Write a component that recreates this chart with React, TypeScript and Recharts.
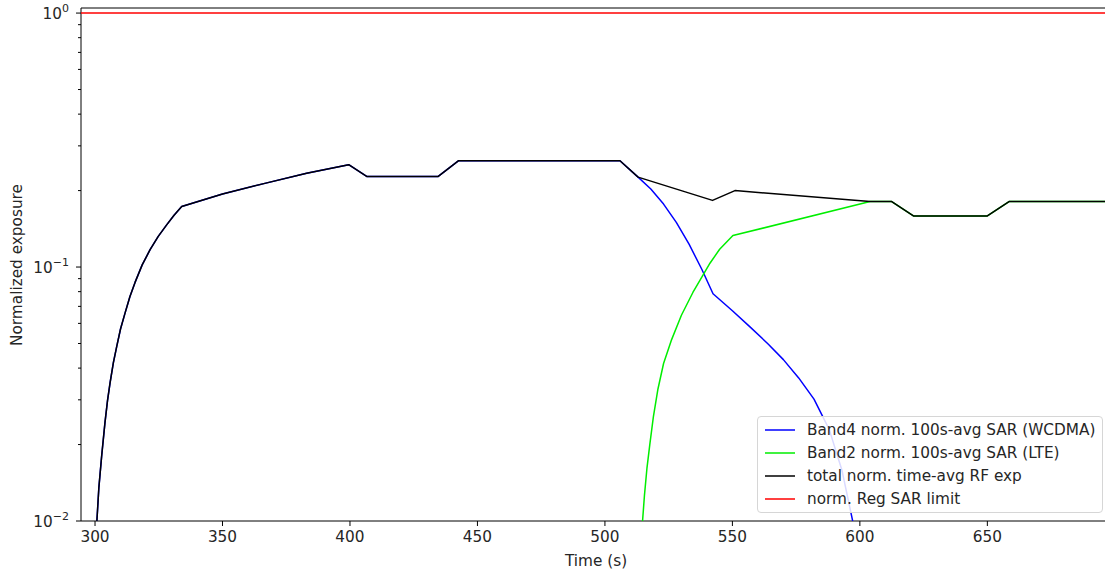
import React from 'react';
import { LineChart, Line, XAxis, YAxis, ReferenceArea, Label } from 'recharts';

// time (s) / normalized exposure readings
const TOTAL_T = [300.6, 301.5, 302.6, 303.9, 304.9, 305.9, 307.2, 308.5, 310, 311.8, 313.7, 315.7, 318.5, 321.6, 324.8, 328.1, 331, 334.0, 350, 367, 383, 399.5, 406.7, 434.5, 442.5, 505.9, 513, 542.2, 551, 604, 612.5, 621, 650, 658.5, 699];
const TOTAL_V = [0.0095, 0.0135, 0.018, 0.0244, 0.0298, 0.035, 0.042, 0.0486, 0.057, 0.066, 0.0765, 0.087, 0.102, 0.117, 0.132, 0.1466, 0.160, 0.173, 0.194, 0.214, 0.234, 0.253, 0.227, 0.227, 0.262, 0.262, 0.226, 0.183, 0.2, 0.181, 0.181, 0.159, 0.159, 0.181, 0.181];

const BAND4_T = [300.6, 301.5, 302.6, 303.9, 304.9, 305.9, 307.2, 308.5, 310, 311.8, 313.7, 315.7, 318.5, 321.6, 324.8, 328.1, 331, 334.0, 350, 367, 383, 399.5, 406.7, 434.5, 442.5, 505.9, 513, 518, 523, 528, 533, 538, 542.4, 550, 557, 564, 570, 576, 582, 588, 593, 597, 601];
const BAND4_V = [0.0095, 0.0135, 0.018, 0.0244, 0.0298, 0.035, 0.042, 0.0486, 0.057, 0.066, 0.0765, 0.087, 0.102, 0.117, 0.132, 0.1466, 0.160, 0.173, 0.194, 0.214, 0.234, 0.253, 0.227, 0.227, 0.262, 0.262, 0.226, 0.203, 0.177, 0.150, 0.123, 0.098, 0.0785, 0.0673, 0.058, 0.0498, 0.0432, 0.0366, 0.0302, 0.0229, 0.0158, 0.0102, 0.0063];

const BAND2_T = [514.6, 515.5, 516.5, 517.6, 519, 520.8, 523, 526, 530, 534.5, 538, 541.2, 545, 550.2, 604, 612.5, 621, 650, 658.5, 699];
const BAND2_V = [0.0095, 0.0126, 0.0162, 0.02, 0.0257, 0.0331, 0.0417, 0.0513, 0.0646, 0.0794, 0.0912, 0.1035, 0.1175, 0.133, 0.181, 0.181, 0.159, 0.159, 0.181, 0.181];

const LIMIT_T = [294.5, 698.5];
const LIMIT_V = [1, 1];

const X_TICKS = [300, 350, 400, 450, 500, 550, 600, 650];
const Y_TICKS = [0.01, 0.02, 0.03, 0.04, 0.05, 0.06, 0.07, 0.08, 0.09, 0.1, 0.2, 0.3, 0.4, 0.5, 0.6, 0.7, 0.8, 0.9, 1];
const Y_MAJOR = [0.01, 0.1, 1];
const Y_MAJOR_EXP = ['\u22122', '\u22121', '0'];

const SERIES = [
  { name: 'Band4 norm. 100s-avg SAR (WCDMA)', t: BAND4_T, v: BAND4_V, color: '#0000ff' },
  { name: 'Band2 norm. 100s-avg SAR (LTE)', t: BAND2_T, v: BAND2_V, color: '#00ee00' },
  { name: 'total norm. time-avg RF exp', t: TOTAL_T, v: TOTAL_V, color: '#000000' },
  { name: 'norm. Reg SAR limit', t: LIMIT_T, v: LIMIT_V, color: '#ff0000' },
];

const FONT = '"DejaVu Sans", sans-serif';
const TXT = '#262626';
const FS = 15.3;

const toRows = (t: number[], v: number[]) => t.map((x, i) => ({ t: x, v: v[i] }));

const XTick = (props: any) => {
  const { x, y, payload } = props;
  return (
    <g>
      <line x1={x} x2={x} y1={y} y2={y + 5} stroke="#000" strokeWidth={1} />
      <text x={x} y={y + 21} textAnchor="middle" fontSize={FS} fill={TXT} fontFamily={FONT}>{payload.value}</text>
    </g>
  );
};

const YTick = (props: any) => {
  const { x, y, payload } = props;
  const idx = Y_MAJOR.indexOf(payload.value);
  const len = idx >= 0 ? 5 : 3;
  return (
    <g>
      <line x1={x} x2={x - len} y1={y} y2={y} stroke="#000" strokeWidth={1} />
      {idx >= 0 && (
        <text x={x - 12} y={y + 5.5} textAnchor="end" fontSize={FS} fill={TXT} fontFamily={FONT}>
          10<tspan dy={-7} fontSize={11}>{Y_MAJOR_EXP[idx]}</tspan>
        </text>
      )}
    </g>
  );
};

export default function App() {
  return (
    <div style={{ position: 'absolute', left: 0, top: 0, width: 1105, height: 572, overflow: 'hidden', background: '#fff', fontFamily: FONT }}>
      <LineChart width={1120} height={572} margin={{ top: 8, right: 9, bottom: 0, left: 0 }}>
        <XAxis
          dataKey="t"
          type="number"
          domain={[294.5, 698.5]}
          allowDataOverflow
          ticks={X_TICKS}
          interval={0}
          tickSize={0}
          tickMargin={0}
          axisLine={false}
          tick={<XTick />}
          height={51}
        >
          <Label
            content={() => (
              <text x={596} y={566} textAnchor="middle" fontSize={FS} fill={TXT} fontFamily={FONT}>Time (s)</text>
            )}
          />
        </XAxis>
        <YAxis
          dataKey="v"
          type="number"
          scale="log"
          domain={[0.01, 1.047]}
          allowDataOverflow
          ticks={Y_TICKS}
          interval={0}
          tickSize={0}
          tickMargin={0}
          axisLine={false}
          tick={<YTick />}
          width={81}
        >
          <Label
            content={() => (
              <text x={17} y={265} transform="rotate(-90 17 265)" textAnchor="middle" dominantBaseline="central" fontSize={FS} fill={TXT} fontFamily={FONT}>Normalized exposure</text>
            )}
          />
        </YAxis>
        {SERIES.map((s) => (
          <Line
            key={s.name}
            data={toRows(s.t, s.v)}
            dataKey="v"
            type="linear"
            stroke={s.color}
            strokeWidth={1.5}
            strokeLinejoin="round"
            dot={false}
            activeDot={false}
            isAnimationActive={false}
          />
        ))}
        <ReferenceArea x1={294.5} x2={698.5} y1={0.01} y2={1.047} fill="none" stroke="#000" strokeWidth={1} />
      </LineChart>
      <div
        style={{
          position: 'absolute', left: 757, top: 416, width: 346, height: 97,
          border: '1px solid #d6d6d6', borderRadius: 4, background: 'rgba(255,255,255,0.85)', boxSizing: 'border-box',
        }}
      >
        {SERIES.map((s, i) => (
          <div key={s.name} style={{ position: 'absolute', left: 0, top: 1 + i * 23.3, height: 23, display: 'flex', alignItems: 'center' }}>
            <svg width={30} height={6} style={{ marginLeft: 7, display: 'block' }}>
              <line x1={0} x2={30} y1={3} y2={3} stroke={s.color} strokeWidth={1.5} />
            </svg>
            <span style={{ marginLeft: 12, fontSize: FS, color: TXT, whiteSpace: 'nowrap' }}>{s.name}</span>
          </div>
        ))}
      </div>
    </div>
  );
}
